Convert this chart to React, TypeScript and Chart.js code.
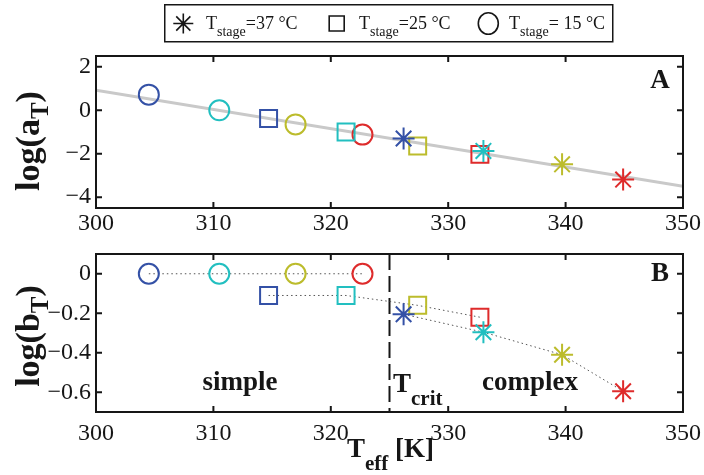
import React, { useEffect, useRef } from 'react';
import { Chart, registerables } from 'chart.js';
Chart.register(...registerables);

const FONT = '"Liberation Serif", "Times New Roman", Times, serif';
const INK = '#161616';

// colours of the four points in each series (one per stage temperature step)
const BLUE = '#3451a6';
const CYAN = '#22bfc0';
const YELLOW = '#bcbc2c';
const RED = '#de2b2b';
const pointColors = [BLUE, CYAN, YELLOW, RED];

// T_eff [K]
const teff37 = [326.2, 333.0, 339.7, 344.9];
const teff25 = [314.7, 321.3, 327.4, 332.7];
const teff15 = [304.5, 310.5, 317.0, 322.7];
// log(a_T)
const logA37 = [-1.3, -1.87, -2.49, -3.19];
const logA25 = [-0.38, -1.0, -1.64, -2.03];
const logA15 = [0.72, 0.0, -0.65, -1.12];
// log(b_T)
const logB37 = [-0.205, -0.296, -0.41, -0.595];
const logB25 = [-0.11, -0.11, -0.16, -0.22];
const logB15 = [0, 0, 0, 0];
// fitted line in panel A
const fitX = [300, 350];
const fitY = [0.92, -3.5];
// critical temperature
const tCrit = 325;

const xTicks = [300, 310, 320, 330, 340, 350];
const yTicksA = [-4, -2, 0, 2];
const yTicksB = [-0.6, -0.4, -0.2, 0];
const xMin = 300, xMax = 350;
const yMinA = -4.5, yMaxA = 2.5;
const yMinB = -0.7, yMaxB = 0.1;

const legendLabels = ['=37 \u00B0C', '=25 \u00B0C', '= 15 \u00B0C'];

function fmtTick(v: number): string {
  if (Math.abs(v) < 1e-9) return '0';
  return v < 0 ? '\u2212' + String(Math.abs(v)) : String(v);
}

type Part = { t: string; size: number; bold?: boolean; dy?: number };
function fontOf(p: Part) {
  return `${p.bold ? 'bold ' : ''}${p.size}px ${FONT}`;
}
function drawParts(ctx: CanvasRenderingContext2D, parts: Part[], x: number, y: number, align: 'left' | 'center') {
  let w = 0;
  parts.forEach((p) => { ctx.font = fontOf(p); w += ctx.measureText(p.t).width; });
  let cx = align === 'center' ? x - w / 2 : x;
  ctx.textAlign = 'left';
  ctx.textBaseline = 'alphabetic';
  parts.forEach((p) => {
    ctx.font = fontOf(p);
    ctx.fillText(p.t, cx, y + (p.dy || 0));
    cx += ctx.measureText(p.t).width;
  });
}

const TL = 6;
function drawFrame(chart: any, xt: number[], yt: number[]) {
  const { ctx, chartArea: a, scales } = chart;
  const x = scales.x, y = scales.y;
  ctx.save();
  ctx.strokeStyle = INK;
  ctx.lineWidth = 2;
  ctx.beginPath();
  xt.forEach((v) => {
    const px = x.getPixelForValue(v);
    ctx.moveTo(px, a.bottom); ctx.lineTo(px, a.bottom - TL);
    ctx.moveTo(px, a.top); ctx.lineTo(px, a.top + TL);
  });
  yt.forEach((v) => {
    const py = y.getPixelForValue(v);
    ctx.moveTo(a.left, py); ctx.lineTo(a.left + TL, py);
    ctx.moveTo(a.right, py); ctx.lineTo(a.right - TL, py);
  });
  ctx.stroke();
  ctx.strokeRect(a.left, a.top, a.right - a.left, a.bottom - a.top);
  ctx.restore();
}

function drawMarker(ctx: CanvasRenderingContext2D, kind: string, cx: number, cy: number, r: number) {
  ctx.beginPath();
  if (kind === 'star') {
    const d = r * Math.SQRT1_2;
    ctx.moveTo(cx - r, cy); ctx.lineTo(cx + r, cy);
    ctx.moveTo(cx, cy - r); ctx.lineTo(cx, cy + r);
    ctx.moveTo(cx - d, cy - d); ctx.lineTo(cx + d, cy + d);
    ctx.moveTo(cx - d, cy + d); ctx.lineTo(cx + d, cy - d);
  } else if (kind === 'rect') {
    ctx.rect(cx - r, cy - r, 2 * r, 2 * r);
  } else {
    ctx.ellipse(cx, cy, r, r * 1.08, 0, 0, Math.PI * 2);
  }
  ctx.stroke();
}

const panelA = {
  id: 'panelA',
  afterDraw(chart: any) {
    const ctx: CanvasRenderingContext2D = chart.ctx;
    drawFrame(chart, xTicks, yTicksA);
    ctx.save();
    ctx.fillStyle = INK;
    ctx.strokeStyle = INK;
    // panel letter
    ctx.font = `bold 27px ${FONT}`;
    ctx.textAlign = 'center';
    ctx.textBaseline = 'alphabetic';
    ctx.fillText('A', 660, 88);
    // y title
    ctx.save();
    ctx.translate(39, 141);
    ctx.rotate(-Math.PI / 2);
    drawParts(ctx, [
      { t: 'log(a', size: 34, bold: true },
      { t: 'T', size: 25, bold: true, dy: 9 },
      { t: ')', size: 34, bold: true },
    ], 0, 0, 'center');
    ctx.restore();
    // legend
    ctx.lineWidth = 1.5;
    ctx.strokeRect(164.75, 4.75, 448, 37);
    const kinds = ['star', 'rect', 'circle'];
    const mx = [183.3, 336.7, 488.3];
    const tx = [206, 359, 509];
    const rr = [10, 7.5, 10];
    kinds.forEach((k, i) => {
      ctx.lineWidth = 1.6;
      drawMarker(ctx, k, mx[i], 23.5, rr[i]);
      drawParts(ctx, [
        { t: 'T', size: 18 },
        { t: 'stage', size: 14, dy: 7 },
        { t: legendLabels[i], size: 18 },
      ], tx[i], 28.5, 'left');
    });
    ctx.restore();
  },
};

const panelB = {
  id: 'panelB',
  afterDraw(chart: any) {
    const ctx: CanvasRenderingContext2D = chart.ctx;
    drawFrame(chart, xTicks, yTicksB);
    ctx.save();
    ctx.fillStyle = INK;
    ctx.font = `bold 27px ${FONT}`;
    ctx.textAlign = 'center';
    ctx.textBaseline = 'alphabetic';
    ctx.fillText('B', 660, 41);
    ctx.fillText('simple', 240, 150);
    ctx.fillText('complex', 530, 150);
    drawParts(ctx, [
      { t: 'T', size: 27, bold: true },
      { t: 'crit', size: 21, bold: true, dy: 13 },
    ], 393, 152, 'left');
    // x title
    drawParts(ctx, [
      { t: 'T', size: 27, bold: true },
      { t: 'eff', size: 21, bold: true, dy: 13 },
      { t: ' [K]', size: 27, bold: true },
    ], 347, 217, 'left');
    // y title
    ctx.save();
    ctx.translate(39, 96);
    ctx.rotate(-Math.PI / 2);
    drawParts(ctx, [
      { t: 'log(b', size: 34, bold: true },
      { t: 'T', size: 25, bold: true, dy: 9 },
      { t: ')', size: 34, bold: true },
    ], 0, 0, 'center');
    ctx.restore();
    ctx.restore();
  },
};

const pts = (xs: number[], ys: number[]) => xs.map((x, i) => ({ x, y: ys[i] }));

function markerSet(xs: number[], ys: number[], style: string, r: number, line: boolean) {
  return {
    data: pts(xs, ys),
    pointStyle: style,
    pointRadius: r,
    pointHoverRadius: r,
    pointBorderWidth: 2,
    pointBorderColor: pointColors,
    pointBackgroundColor: 'rgba(0,0,0,0)',
    showLine: line,
    borderColor: '#555',
    borderWidth: 1,
    borderDash: [1.5, 3],
    order: 0,
  };
}

function scaleOpts(min: number, max: number, ticks: number[], axis: 'x' | 'y', size: number, pad: number) {
  return {
    type: 'linear',
    min,
    max,
    grid: { display: false, drawTicks: false },
    border: { display: false },
    afterBuildTicks: (s: any) => { s.ticks = ticks.map((v) => ({ value: v })); },
    afterFit: (s: any) => {
      if (axis === 'x') { s.height = size; } else { s.width = size; }
      s.paddingTop = 0; s.paddingBottom = 0; s.paddingLeft = 0; s.paddingRight = 0;
    },
    ticks: {
      autoSkip: false,
      maxRotation: 0,
      minRotation: 0,
      padding: pad,
      color: INK,
      font: { family: FONT, size: 24 },
      callback: (v: any) => fmtTick(Number(v)),
    },
  };
}

export default function App() {
  const refA = useRef<HTMLCanvasElement>(null);
  const refB = useRef<HTMLCanvasElement>(null);
  useEffect(() => {
    const a = new Chart(refA.current as HTMLCanvasElement, {
      type: 'scatter',
      data: {
        datasets: [
          markerSet(teff37, logA37, 'star', 11, false),
          markerSet(teff25, logA25, 'rect', 12, false),
          markerSet(teff15, logA15, 'circle', 10, false),
          {
            data: pts(fitX, fitY),
            showLine: true,
            borderColor: '#c9c9c9',
            borderWidth: 3,
            pointRadius: 0,
            order: 10,
          },
        ] as any,
      },
      options: {
        animation: false,
        responsive: false,
        events: [],
        layout: { padding: { left: 0, right: 21, top: 56, bottom: 0 } },
        plugins: { legend: { display: false }, tooltip: { enabled: false } },
        scales: {
          x: scaleOpts(xMin, xMax, xTicks, 'x', 32, 1),
          y: scaleOpts(yMinA, yMaxA, yTicksA, 'y', 96, 5),
        } as any,
      },
      plugins: [panelA],
    });
    const b = new Chart(refB.current as HTMLCanvasElement, {
      type: 'scatter',
      data: {
        datasets: [
          markerSet(teff37, logB37, 'star', 11, true),
          markerSet(teff25, logB25, 'rect', 12, true),
          markerSet(teff15, logB15, 'circle', 10, true),
          {
            data: [{ x: tCrit, y: yMaxB }, { x: tCrit, y: yMinB }],
            showLine: true,
            borderColor: INK,
            borderWidth: 2,
            borderDash: [16, 6],
            pointRadius: 0,
            order: 10,
          },
        ] as any,
      },
      options: {
        animation: false,
        responsive: false,
        events: [],
        layout: { padding: { left: 0, right: 21, top: 9, bottom: 0 } },
        plugins: { legend: { display: false }, tooltip: { enabled: false } },
        scales: {
          x: scaleOpts(xMin, xMax, xTicks, 'x', 63, 7),
          y: scaleOpts(yMinB, yMaxB, yTicksB, 'y', 96, 5),
        } as any,
      },
      plugins: [panelB],
    });
    return () => { a.destroy(); b.destroy(); };
  }, []);
  return (
    <div style={{ position: 'fixed', left: 0, top: 0, width: 704, height: 475, background: '#fff' }}>
      <canvas ref={refA} width={704} height={240} style={{ position: 'absolute', left: 0, top: 0 }} />
      <canvas ref={refB} width={704} height={235} style={{ position: 'absolute', left: 0, top: 240 }} />
    </div>
  );
}
